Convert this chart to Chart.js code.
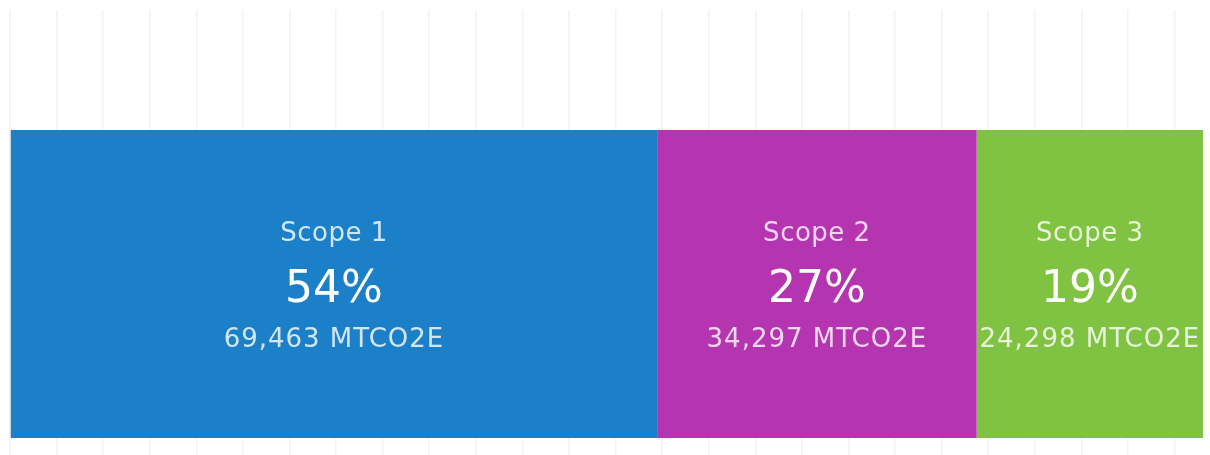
<!DOCTYPE html>
<html>
<head>
<meta charset="utf-8">
<script src="https://cdn.jsdelivr.net/npm/chart.js@4/dist/chart.umd.min.js"></script>
<style>
    html, body { margin: 0; padding: 0; background: #ffffff; overflow: hidden; }
    #wrap { width: 1210px; height: 570px; position: relative; }
</style>
</head>
<body>
<div id="wrap"><canvas id="scope-canvas"></canvas></div>
<script>
// chart data
const categories  = ["Emissions"];
const scopeNames  = ["Scope 1", "Scope 2", "Scope 3"];
const scopeValues = [69463, 34297, 24298];
const scopeColors = ["#1b80c8", "#b535b0", "#80c241"];
const gridStep    = 5000;

const total = scopeValues.reduce(function (a, b) { return a + b; }, 0);

// writes the three text lines in the middle of each bar segment
const segmentLabels = {
    id: "segmentLabels",
    afterDatasetsDraw: function (chart) {
        const ctx = chart.ctx;
        ctx.save();
        ctx.textAlign = "center";
        ctx.textBaseline = "middle";
        chart.data.datasets.forEach(function (ds, i) {
            const bar = chart.getDatasetMeta(i).data[0];
            const cx = (bar.x + bar.base) / 2;
            const cy = bar.y;
            const value = ds.data[0];
            const pct = Math.round(value / total * 100) + "%";

            ctx.letterSpacing = "0.5px";
            ctx.fillStyle = "rgba(255,255,255,0.8)";
            ctx.font = "26px 'DejaVu Sans'";
            ctx.fillText(ds.label, cx, cy - 50);

            ctx.letterSpacing = "0px";
            ctx.fillStyle = "#ffffff";
            ctx.font = "44px 'DejaVu Sans'";
            ctx.fillText(pct, cx, cy + 7);

            ctx.letterSpacing = "1px";
            ctx.fillStyle = "rgba(255,255,255,0.8)";
            ctx.font = "26px 'DejaVu Sans'";
            ctx.fillText(value.toLocaleString("en-US") + " MTCO2E", cx, cy + 56);
        });
        ctx.restore();
    }
};

const ctx = document.getElementById("scope-canvas").getContext("2d");
const scope_chart = new Chart(ctx, {
    type: "bar",
    data: {
        labels: categories,
        datasets: scopeNames.map(function (name, i) {
            return {
                label: name,
                data: [scopeValues[i]],
                backgroundColor: scopeColors[i],
                borderWidth: 0,
                categoryPercentage: 1,
                barPercentage: 0.562
            };
        })
    },
    options: {
        indexAxis: "y",
        responsive: true,
        maintainAspectRatio: false,
        animation: false,
        layout: { padding: { left: 10, right: 7, top: 10, bottom: 12 } },
        plugins: {
            legend: { display: false },
            tooltip: { enabled: false }
        },
        scales: {
            x: {
                stacked: true,
                min: 0,
                max: total,
                border: { display: false },
                afterBuildTicks: function (scale) {
                    // one grid line every gridStep units
                    const ticks = [];
                    for (let v = 0; v <= total; v += gridStep) {
                        ticks.push({ value: v });
                    }
                    scale.ticks = ticks;
                },
                grid: {
                    drawTicks: false,
                    lineWidth: 1.5,
                    color: "#f3f3f3"
                },
                ticks: { display: false }
            },
            y: {
                stacked: true,
                display: false
            }
        }
    },
    plugins: [segmentLabels]
});
</script>
</body>
</html>
